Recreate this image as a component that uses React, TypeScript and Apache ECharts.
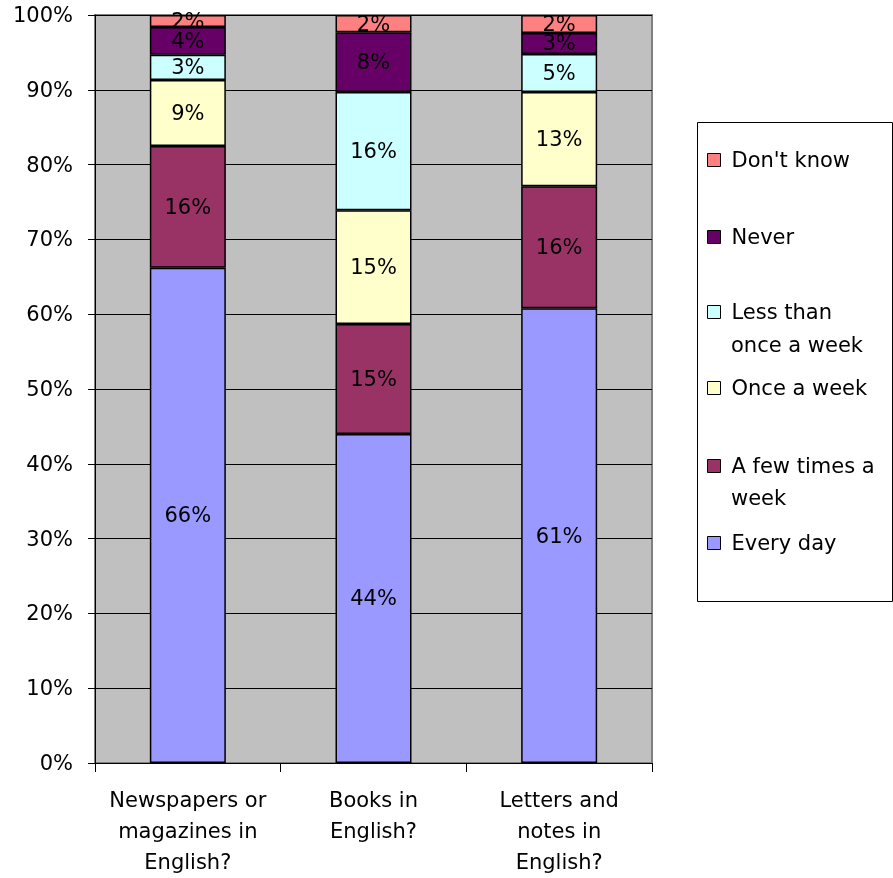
import React, { useEffect, useRef } from "react";
import * as echarts from "echarts";

const categories = [
  "Newspapers or\nmagazines in\nEnglish?",
  "Books in\nEnglish?",
  "Letters and\nnotes in\nEnglish?",
];
const seriesNames = [
  "Every day",
  "A few times a week",
  "Once a week",
  "Less than once a week",
  "Never",
  "Don't know",
];
const everyDay = [66.2, 44.0, 60.8];
const fewTimes = [16.3, 14.7, 16.3];
const onceWeek = [8.8, 15.2, 12.6];
const lessThanOnce = [3.4, 15.8, 5.1];
const never = [3.7, 8.0, 2.8];
const dontKnow = [1.6, 2.3, 2.4];
const yTicks = [0, 10, 20, 30, 40, 50, 60, 70, 80, 90, 100];

const seriesValues = [everyDay, fewTimes, onceWeek, lessThanOnce, never, dontKnow];
const colors = ["#9999FF", "#993366", "#FFFFCC", "#CCFFFF", "#660066", "#FF8080"];

const FONT = "DejaVu Sans";
const FS = 21;

export default function App() {
  const ref = useRef<HTMLDivElement>(null);
  useEffect(() => {
    if (!ref.current) return;
    const chart = echarts.init(ref.current, null, { renderer: "svg" });

    const legendTops: Record<string, number> = {
      "Don't know": 160,
      "Never": 237,
      "Less than once a week": 312,
      "Once a week": 388,
      "A few times a week": 466,
      "Every day": 543,
    };
    const legendFirst: Record<string, string> = {
      "Less than once a week": "Less than",
      "A few times a week": "A few times a",
    };

    const legends = seriesNames.map((name, i) => ({
      data: [name],
      left: 702,
      top: legendTops[name] - 16,
      orient: "vertical",
      itemWidth: 13,
      itemHeight: 13,
      icon: "rect",
      selectedMode: false,
      itemStyle: { color: colors[i], borderColor: "#000", borderWidth: 1 },
      formatter: (n: string) => legendFirst[n] || n,
      textStyle: {
        fontFamily: FONT,
        fontSize: FS,
        color: "#000",
        lineHeight: 22,
        padding: [0, 0, 0, 6],
      },
    }));

    chart.setOption({
      animation: false,
      grid: {
        left: 95,
        top: 15,
        width: 557,
        height: 748,
        show: true,
        backgroundColor: "#C0C0C0",
        borderColor: "#808080",
        borderWidth: 2,
      },
      legend: legends,
      graphic: [
        {
          type: "rect",
          shape: { x: 697.5, y: 122.5, width: 195, height: 479 },
          style: { fill: "#fff", stroke: "#000", lineWidth: 1 },
          z: 0,
        },
        {
          type: "text",
          x: 731,
          y: 345,
          style: {
            text: "once a week",
            fontFamily: FONT,
            fontSize: FS,
            fill: "#000",
            verticalAlign: "middle",
          },
          z: 10,
        },
        {
          type: "text",
          x: 731,
          y: 498,
          style: {
            text: "week",
            fontFamily: FONT,
            fontSize: FS,
            fill: "#000",
            verticalAlign: "middle",
          },
          z: 10,
        },
      ],
      xAxis: {
        type: "category",
        data: categories,
        axisLine: { show: true, lineStyle: { color: "#000", width: 1 } },
        axisTick: { show: true, length: 9, alignWithLabel: false, lineStyle: { color: "#000" } },
        axisLabel: {
          fontFamily: FONT,
          fontSize: FS,
          color: "#000",
          lineHeight: 31,
          margin: 21,
          interval: 0,
        },
        splitLine: { show: false },
      },
      yAxis: {
        type: "value",
        min: 0,
        max: 100,
        interval: 10,
        axisLine: { show: true, lineStyle: { color: "#000", width: 1 } },
        axisTick: { show: true, length: 7, lineStyle: { color: "#000" } },
        axisLabel: {
          fontFamily: FONT,
          fontSize: FS,
          color: "#000",
          margin: 22,
          formatter: (v: number) => (yTicks.includes(v) ? v + "%" : ""),
        },
        splitLine: { show: true, lineStyle: { color: "#000", width: 1 } },
      },
      series: seriesNames.map((name, i) => ({
        name,
        type: "bar",
        stack: "total",
        barWidth: 76,
        data: seriesValues[i],
        itemStyle: { color: colors[i], borderColor: "#000", borderWidth: 1.5 },
        label: {
          show: true,
          position: "inside",
          fontFamily: FONT,
          fontSize: FS,
          color: "#000",
          formatter: (p: any) => Math.round(p.value) + "%",
        },
      })),
    });
    return () => chart.dispose();
  }, []);
  return (
    <div
      ref={ref}
      style={{ position: "fixed", left: 0, top: 0, width: 893, height: 878 }}
    />
  );
}
